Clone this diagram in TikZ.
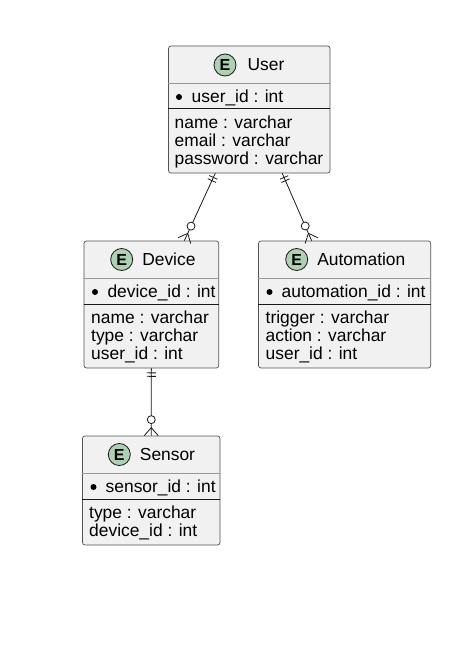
\documentclass[tikz,border=0pt]{standalone}
\usepackage{fontspec}
\setmainfont{Liberation Sans}
\usetikzlibrary{positioning,calc}
\definecolor{boxfill}{HTML}{F1F1F1}
\definecolor{iconfill}{HTML}{ADD1B2}
\definecolor{linecol}{HTML}{181818}

\begin{document}
\begin{tikzpicture}[x=1pt, y=-1pt,
  entity/.style={draw=linecol!75, fill=boxfill, rounded corners=2.5pt, line width=0.7pt, inner sep=0pt},
  icon/.style={circle, draw=linecol, fill=iconfill, line width=0.8pt, minimum size=22pt, inner sep=0pt, text height=11pt, text depth=0pt, font=\fontsize{16}{18}\selectfont\bfseries},
  txt/.style={inner sep=0pt, text height=14.5pt, text depth=3pt, font=\fontsize{17.4}{18}\selectfont},
  attr/.style={txt, anchor=west},
  headline/.style={draw=linecol!45, line width=0.6pt},
  sepline/.style={draw=linecol, line width=1pt},
  pk/.style={fill=black, circle, inner sep=0pt, minimum size=6pt},
  link/.style={draw=linecol, line width=0.8pt}]
\useasboundingbox (0,0) rectangle (475,647);
% boxes
\node[entity, minimum width=161.5, minimum height=127] (user) at (249.25,109.5) {};
\node[entity, minimum width=134.7, minimum height=127] (device) at (151.35,304.5) {};
\node[entity, minimum width=172.2, minimum height=127] (automation) at (344.6,304.5) {};
\node[entity, minimum width=137.5, minimum height=109] (sensor) at (151.25,490.5) {};
% User
\node[icon] (userE) at (225,65) {E};
\node[txt, right=11pt of userE] (userT) {User};
\draw[headline] (user.west |- 0,83) -- (user.east |- 0,83);
\node[pk] (userK) at (179,97) {};
\node[attr] (userA) at (191.5,96.5) {user\_id : int};
\draw[sepline] (user.west |- 0,109) -- (user.east |- 0,109);
\node[attr] (userB) at (174.5,123) {name : varchar};
\node[attr] (userC) at (174.5,141) {email : varchar};
\node[attr] (userD) at (174.5,159) {password : varchar};
% Device
\node[icon] (deviceE) at (121.7,259.5) {E};
\node[txt, right=9pt of deviceE] (deviceT) {Device};
\draw[headline] (device.west |- 0,278) -- (device.east |- 0,278);
\node[pk] (deviceK) at (95,292) {};
\node[attr] (deviceA) at (107.3,291.5) {device\_id : int};
\draw[sepline] (device.west |- 0,304) -- (device.east |- 0,304);
\node[attr] (deviceB) at (91,318) {name : varchar};
\node[attr] (deviceC) at (91,336) {type : varchar};
\node[attr] (deviceD) at (91,354) {user\_id : int};
% Automation
\node[icon] (automationE) at (296.7,259.5) {E};
\node[txt, right=9pt of automationE] (automationT) {Automation};
\draw[headline] (automation.west |- 0,278) -- (automation.east |- 0,278);
\node[pk] (automationK) at (269.5,292) {};
\node[attr] (automationA) at (281.5,291.5) {automation\_id : int};
\draw[sepline] (automation.west |- 0,304) -- (automation.east |- 0,304);
\node[attr] (automationB) at (265.5,318) {trigger : varchar};
\node[attr] (automationC) at (265.5,336) {action : varchar};
\node[attr] (automationD) at (265.5,354) {user\_id : int};
% Sensor
\node[icon] (sensorE) at (119.3,454.5) {E};
\node[txt, right=9pt of sensorE] (sensorT) {Sensor};
\draw[headline] (sensor.west |- 0,473) -- (sensor.east |- 0,473);
\node[pk] (sensorK) at (93.5,487) {};
\node[attr] (sensorA) at (105.5,486.5) {sensor\_id : int};
\draw[sepline] (sensor.west |- 0,499) -- (sensor.east |- 0,499);
\node[attr] (sensorB) at (89,513) {type : varchar};
\node[attr] (sensorC) at (89,531) {device\_id : int};
% links
\coordinate (u1) at ($(user.south)+(-34,0)$);
\coordinate (u2) at ($(user.south)+(33,0)$);
\coordinate (d1) at ($(device.north)+(33,0)$);
\coordinate (a1) at ($(automation.north)+(-33,0)$);
\coordinate (d2) at (device.south);
\coordinate (s1) at (sensor.north);
\foreach \a/\b in {u1/d1, u2/a1, d2/s1} {
  \draw[link] (\a) -- (\b);
  \draw[link] ($(\a)!4.5pt!(\b)!4.5pt!90:(\b)$) -- ($(\a)!4.5pt!(\b)!4.5pt!-90:(\b)$);
  \draw[link] ($(\a)!8pt!(\b)!4.5pt!90:(\b)$) -- ($(\a)!8pt!(\b)!4.5pt!-90:(\b)$);
  \draw[link] ($(\b)!7pt!90:(\a)$) -- ($(\b)!8pt!(\a)$) -- ($(\b)!7pt!-90:(\a)$);
  \draw[link, fill=white] ($(\b)!16pt!(\a)$) circle (4pt);
}
\end{tikzpicture}
\end{document}
